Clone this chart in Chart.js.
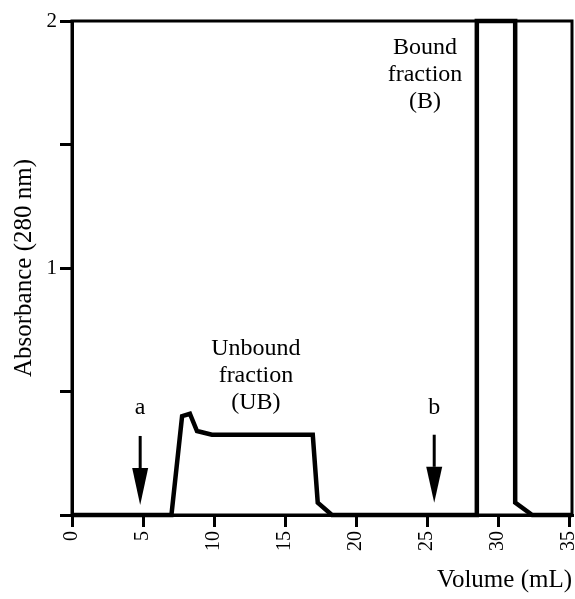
<!DOCTYPE html>
<html>
<head>
<meta charset="utf-8">
<script src="https://cdn.jsdelivr.net/npm/chart.js@4"></script>
<style>
    html, body { margin: 0; padding: 0; background: #fff; }
    #wrap { width: 575px; height: 599px; }
</style>
</head>
<body>
<div id="wrap"><canvas id="myChart" width="575" height="599"></canvas></div>
<script>
// elution profile
const volume = [0, 7.0, 7.75, 8.3, 8.8, 9.85, 16.95, 17.3, 18.3, 28.5, 28.5, 31.2, 31.2, 32.4, 35.2];
const absorbance = [0, 0, 0.40, 0.41, 0.34, 0.325, 0.325, 0.05, 0, 0, 2, 2, 0.05, 0, 0];

const xTicks = [0, 5, 10, 15, 20, 25, 30, 35];
const yLabels = [1, 2];

// arrows a and b (volume, top of shaft, bottom of head)
const arrowNames = ['a', 'b'];
const arrowX = [4.8, 25.5];
const arrowTop = [0.32, 0.325];
const arrowTip = [0.04, 0.05];
const arrowHead = [0.19, 0.195];
const arrowLabelY = [0.435, 0.435];

// peak labels
const peakText = [['Unbound', 'fraction', '(UB)'], ['Bound', 'fraction', '(B)']];
const peakX = [12.95, 24.85];
const peakY = [0.675, 1.89];

const serif = '"Liberation Serif", "Times New Roman", serif';

const extras = {
    id: 'extras',
    afterDatasetsDraw(chart) {
        const ctx = chart.ctx;
        const x = chart.scales.x;
        const y = chart.scales.y;
        const area = chart.chartArea;
        ctx.save();
        // frame
        ctx.strokeStyle = '#000';
        ctx.lineWidth = 3;
        ctx.strokeRect(area.left, area.top, area.right - area.left, area.bottom - area.top);

        // arrows
        ctx.fillStyle = '#000';
        ctx.lineWidth = 3;
        ctx.font = '24px ' + serif;
        ctx.textAlign = 'center';
        ctx.textBaseline = 'middle';
        for (let i = 0; i < arrowX.length; i++) {
            const px = x.getPixelForValue(arrowX[i]);
            ctx.beginPath();
            ctx.moveTo(px, y.getPixelForValue(arrowTop[i]));
            ctx.lineTo(px, y.getPixelForValue(arrowHead[i]));
            ctx.stroke();
            ctx.beginPath();
            ctx.moveTo(px - 8, y.getPixelForValue(arrowHead[i]));
            ctx.lineTo(px + 8, y.getPixelForValue(arrowHead[i]));
            ctx.lineTo(px, y.getPixelForValue(arrowTip[i]));
            ctx.closePath();
            ctx.fill();
            ctx.fillText(arrowNames[i], px, y.getPixelForValue(arrowLabelY[i]));
        }

        // peak labels
        for (let i = 0; i < peakText.length; i++) {
            const px = x.getPixelForValue(peakX[i]);
            const py = y.getPixelForValue(peakY[i]);
            peakText[i].forEach((t, j) => {
                ctx.fillText(t, px, py + j * 27);
            });
        }
        ctx.restore();
    },
};

const ctx = document.getElementById('myChart');

new Chart(ctx, {
    type: 'line',
    data: {
        datasets: [
            {
                data: volume.map((v, i) => ({ x: v, y: absorbance[i] })),
                borderColor: '#000',
                borderWidth: 4.5,
                pointRadius: 0,
                tension: 0,
                fill: false,
                clip: false,
            },
        ],
    },
    options: {
        responsive: false,
        animation: false,
        devicePixelRatio: 1,
        layout: { padding: { top: 21, right: 3, left: 0, bottom: 0 } },
        plugins: { legend: { display: false }, tooltip: { enabled: false } },
        scales: {
            x: {
                type: 'linear',
                min: 0,
                max: 35.2,
                afterBuildTicks: (s) => {
                    s.ticks = xTicks.map((v) => ({ value: v }));
                },
                afterFit: (s) => {
                    s.height = 84;
                    s.paddingLeft = 0;
                    s.paddingRight = 0;
                },
                ticks: {
                    minRotation: 90,
                    maxRotation: 90,
                    padding: 4,
                    color: '#000',
                    font: { family: serif, size: 20 },
                },
                grid: { drawOnChartArea: false, tickLength: 12, color: '#000', lineWidth: 3 },
                border: { color: '#000', width: 3 },
                title: {
                    display: true,
                    text: 'Volume (mL)',
                    align: 'end',
                    color: '#000',
                    font: { family: serif, size: 25 },
                    padding: { top: 0, bottom: 4 },
                },
            },
            y: {
                min: 0,
                max: 2,
                ticks: {
                    stepSize: 0.5,
                    padding: 3,
                    color: '#000',
                    font: { family: serif, size: 21 },
                    callback: (v) => (yLabels.includes(v) ? v : ''),
                },
                afterFit: (s) => {
                    s.width = 72;
                    s.paddingTop = 0;
                    s.paddingBottom = 0;
                },
                grid: { drawOnChartArea: false, tickLength: 12, color: '#000', lineWidth: 3 },
                border: { color: '#000', width: 3 },
                title: {
                    display: true,
                    text: 'Absorbance (280 nm)',
                    color: '#000',
                    font: { family: serif, size: 25 },
                    padding: { top: 9, bottom: 0 },
                },
            },
        },
    },
    plugins: [extras],
});
</script>
</body>
</html>
